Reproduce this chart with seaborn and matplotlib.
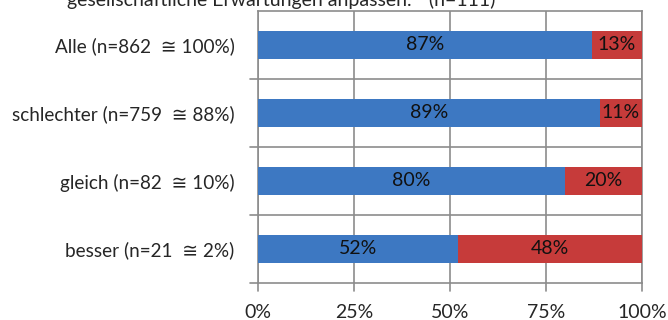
import numpy as np
import matplotlib.pyplot as plt
import seaborn as sns

categories = ["Alle (n=862  \u2245 100%)", "schlechter (n=759  \u2245 88%)",
              "gleich (n=82  \u2245 10%)", "besser (n=21  \u2245 2%)"]
blue_vals = [87, 89, 80, 52]
red_vals = [13, 11, 20, 48]
xticks = [0, 25, 50, 75, 100]
title = 'gesellschaftliche Erwartungen anpassen."  (n=111)'

sns.set_style("white")
plt.rcParams['font.family'] = ['Lato', 'DejaVu Sans']

blue = "#3D78C2"
red = "#C63B3A"
fs = 14

fig = plt.figure(figsize=(6.68, 3.2), dpi=100)
ax = fig.add_axes([258 / 668, 37 / 320, 384 / 668, 272 / 320])

# stacked bars: red drawn as full total, blue on top
totals = [b + r for b, r in zip(blue_vals, red_vals)]
sns.barplot(x=totals, y=categories, color=red, width=0.4, saturation=1,
            orient="h", ax=ax, edgecolor="none", zorder=3)
sns.barplot(x=blue_vals, y=categories, color=blue, width=0.4, saturation=1,
            orient="h", ax=ax, edgecolor="none", zorder=3)

for i, (b, r) in enumerate(zip(blue_vals, red_vals)):
    ax.text(b / 2, i, f"{b}%", ha="center", va="center", fontsize=fs,
            color="#111111", zorder=4)
    ax.text(b + r / 2, i, f"{r}%", ha="center", va="center", fontsize=fs,
            color="#111111", zorder=4)

ax.set_xlim(0, 100)
ax.set_ylim(3.5, -0.5)
ax.set_xticks(xticks)
ax.set_xticklabels([f"{t}%" for t in xticks], fontsize=fs)
ax.set_yticks(range(len(categories)))
ax.set_yticklabels(categories, fontsize=13.6)
ax.tick_params(axis="y", length=0, pad=17)
ax.tick_params(axis="x", length=0, pad=15)

# vertical gridlines
for t in xticks:
    ax.axvline(t, color="#8C8C8C", lw=1.2, zorder=1)
# category separators + small outside ticks
for yy in [0.5, 1.5, 2.5]:
    ax.axhline(yy, color="#8C8C8C", lw=1.2, zorder=1)
    ax.plot([-2, 0], [yy, yy], color="#8C8C8C", lw=1.2, clip_on=False)
ax.plot([-2, 0], [3.5, 3.5], color="#8C8C8C", lw=1.2, clip_on=False)
for t in xticks:
    ax.plot([t, t], [3.5, 3.5 + 0.12], color="#8C8C8C", lw=1.2, clip_on=False)

for s in ax.spines.values():
    s.set_visible(True)
    s.set_color("#8C8C8C")
    s.set_linewidth(1.2)

ax.set_xlabel("")
ax.set_ylabel("")

fig.text(281 / 668, 1 - 6 / 320, title, ha="center", va="baseline", fontsize=fs)

fig.savefig("out.png", dpi=100)
